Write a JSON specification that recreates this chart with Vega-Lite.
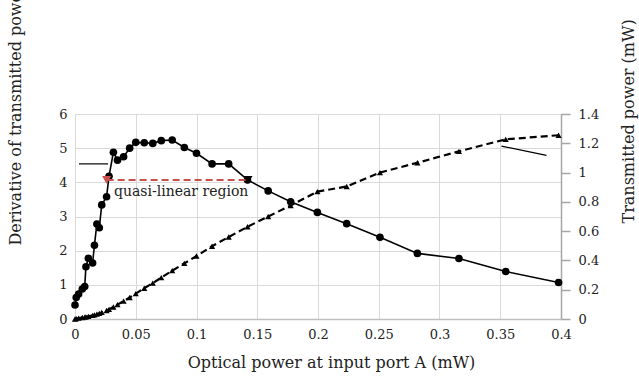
{
  "$schema": "https://vega.github.io/schema/vega-lite/v6.json",
  "width": 486,
  "height": 205,
  "autosize": "none",
  "padding": {"left": 75, "top": 114, "right": 78, "bottom": 63},
  "background": "white",
  "config": {
    "view": {"stroke": null},
    "font": "DejaVu Serif",
    "axis": {"labelFont": "DejaVu Serif", "titleFont": "DejaVu Serif", "titleFontWeight": "normal", "labelColor": "#222222", "titleColor": "#222222", "labelOverlap": false}
  },
  "datasets": {
    "main": [
      {"x": 0, "d": 0.41, "t": 0.0},
      {"x": 0.001, "d": 0.63, "t": 0.003},
      {"x": 0.003, "d": 0.73, "t": 0.006},
      {"x": 0.006, "d": 0.88, "t": 0.010},
      {"x": 0.008, "d": 0.95, "t": 0.013},
      {"x": 0.009, "d": 1.53, "t": 0.015},
      {"x": 0.011, "d": 1.78, "t": 0.018},
      {"x": 0.0145, "d": 1.64, "t": 0.025},
      {"x": 0.016, "d": 2.16, "t": 0.028},
      {"x": 0.018, "d": 2.78, "t": 0.033},
      {"x": 0.020, "d": 2.67, "t": 0.038},
      {"x": 0.022, "d": 3.34, "t": 0.045},
      {"x": 0.026, "d": 3.58, "t": 0.058},
      {"x": 0.028, "d": 4.18, "t": 0.066},
      {"x": 0.0316, "d": 4.88, "t": 0.082},
      {"x": 0.035, "d": 4.65, "t": 0.098},
      {"x": 0.040, "d": 4.75, "t": 0.122},
      {"x": 0.045, "d": 5.0, "t": 0.147},
      {"x": 0.050, "d": 5.17, "t": 0.173},
      {"x": 0.057, "d": 5.16, "t": 0.21},
      {"x": 0.064, "d": 5.14, "t": 0.245},
      {"x": 0.071, "d": 5.22, "t": 0.283},
      {"x": 0.080, "d": 5.24, "t": 0.33},
      {"x": 0.090, "d": 5.02, "t": 0.38},
      {"x": 0.100, "d": 4.85, "t": 0.43},
      {"x": 0.1128, "d": 4.54, "t": 0.497},
      {"x": 0.1265, "d": 4.54, "t": 0.56},
      {"x": 0.142, "d": 4.07, "t": 0.63},
      {"x": 0.159, "d": 3.75, "t": 0.70},
      {"x": 0.1775, "d": 3.43, "t": 0.775},
      {"x": 0.1995, "d": 3.12, "t": 0.87},
      {"x": 0.2236, "d": 2.79, "t": 0.905},
      {"x": 0.251, "d": 2.39, "t": 1.0},
      {"x": 0.2818, "d": 1.92, "t": 1.067},
      {"x": 0.316, "d": 1.77, "t": 1.145},
      {"x": 0.3545, "d": 1.39, "t": 1.227},
      {"x": 0.398, "d": 1.07, "t": 1.255}
    ],
    "arrow": [{"x": 0.026, "x2": 0.1424, "d": 4.07}],
    "arrowEnds": [
      {"x": 0.026, "d": 4.07, "c": "red"},
      {"x": 0.1424, "d": 4.07, "c": "black"}
    ],
    "label": [{"x": 0.0321, "d": 3.72, "text": "quasi-linear region"}],
    "ptr1": [{"x": 0.0033, "x2": 0.0272, "d": 4.54, "d2": 4.54}],
    "ptr2": [{"x": 0.351, "x2": 0.388, "t": 1.181, "t2": 1.118}]
  },
  "encoding": {
    "x": {"field": "x", "type": "quantitative", "scale": {"domain": [0, 0.4], "nice": false},
      "axis": {"values": [0, 0.05, 0.1, 0.15, 0.2, 0.25, 0.3, 0.35, 0.4], "format": "~g", "grid": true, "gridColor": "#d9d9d9", "domainColor": "#bfbfbf", "domainWidth": 1.5, "ticks": false, "labelPadding": 9, "labelFontSize": 13, "labelFlush": false,
        "title": "Optical power at input port A (mW)", "titleFontSize": 16, "titleX": 256, "titleY": 43, "titleBaseline": "middle", "titleAlign": "center", "titleAnchor": null}}
  },
  "layer": [
    {
      "encoding": {
        "y": {"field": "d", "type": "quantitative", "scale": {"domain": [0, 6], "nice": false},
          "axis": {"orient": "left", "values": [0, 1, 2, 3, 4, 5, 6], "format": "~g", "grid": true, "gridColor": "#d9d9d9", "domainColor": "#d9d9d9", "ticks": false, "labelPadding": 8, "labelFontSize": 13, "labelFlush": false,
            "title": "Derivative of transmitted power", "titleFontSize": 16, "titleAngle": 270, "titleAlign": "left", "titleBaseline": "middle", "titleX": -60, "titleY": 131, "titleAnchor": null}}
      },
      "layer": [
        {
          "data": {"name": "main"},
          "mark": {"type": "line", "color": "black", "strokeWidth": 1.6}
        },
        {
          "data": {"name": "main"},
          "mark": {"type": "point", "shape": "circle", "filled": true, "color": "black", "opacity": 1, "size": 58}
        },
        {
          "data": {"name": "arrow"},
          "mark": {"type": "rule", "color": "#c9504b", "strokeWidth": 2, "strokeDash": [7, 4]},
          "encoding": {"x2": {"field": "x2"}}
        },
        {
          "data": {"name": "arrowEnds"},
          "mark": {"type": "point", "shape": "triangle-down", "filled": true, "opacity": 1, "size": 80},
          "encoding": {
            "color": {"field": "c", "type": "nominal", "scale": {"domain": ["red", "black"], "range": ["#c9504b", "#000000"]}, "legend": null}
          }
        },
        {
          "data": {"name": "label"},
          "mark": {"type": "text", "align": "left", "baseline": "middle", "fontSize": 14, "font": "DejaVu Serif", "color": "#222222"},
          "encoding": {"text": {"field": "text"}}
        },
        {
          "data": {"name": "ptr1"},
          "mark": {"type": "rule", "color": "black", "strokeWidth": 1.2},
          "encoding": {"x2": {"field": "x2"}, "y2": {"field": "d2"}}
        }
      ]
    },
    {
      "encoding": {
        "y": {"field": "t", "type": "quantitative", "scale": {"domain": [0, 1.4], "nice": false},
          "axis": {"orient": "right", "values": [0, 0.2, 0.4, 0.6, 0.8, 1, 1.2, 1.4], "format": "~g", "grid": false, "domainColor": "#a6a6a6", "domainWidth": 1.5, "ticks": true, "tickColor": "#a6a6a6", "tickWidth": 1.5, "tickSize": 9, "labelPadding": 8, "labelFontSize": 13, "labelFlush": false,
            "title": "Transmitted power (mW)", "titleFontSize": 16, "titleAngle": 270, "titleAlign": "left", "titleBaseline": "middle", "titleX": 67, "titleY": 109, "titleAnchor": null}}
      },
      "layer": [
        {
          "data": {"name": "main"},
          "mark": {"type": "line", "color": "black", "strokeWidth": 2.2, "strokeDash": [7, 4]}
        },
        {
          "data": {"name": "main"},
          "mark": {"type": "point", "shape": "triangle-up", "filled": true, "color": "black", "opacity": 1, "size": 38}
        },
        {
          "data": {"name": "ptr2"},
          "mark": {"type": "rule", "color": "black", "strokeWidth": 1.2},
          "encoding": {"x2": {"field": "x2"}, "y2": {"field": "t2"}}
        }
      ]
    }
  ],
  "resolve": {"scale": {"y": "independent"}, "axis": {"y": "independent"}}
}
